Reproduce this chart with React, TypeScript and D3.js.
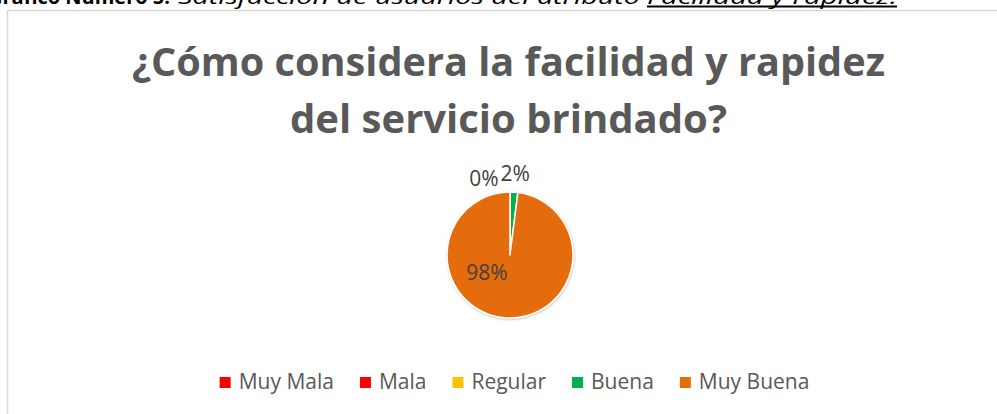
import React, { useEffect, useRef } from 'react';
import * as d3 from 'd3';

const categories = ['Muy Mala', 'Mala', 'Regular', 'Buena', 'Muy Buena'];
const values = [0, 0, 0, 2, 98];
const percentLabels = ['0%', '0%', '0%', '2%', '98%'];
const colors = ['#FF0000', '#FF0000', '#FFC000', '#00B050', '#E46C0A'];
const titleLines = ['¿Cómo considera la facilidad y rapidez', 'del servicio brindado?'];
const captionParts = ['Gráfico Número 5:', 'Satisfacción de usuarios del atributo', 'Facilidad y rapidez.'];

const width = 997;
const height = 414;
const font = '"Open Sans", "DejaVu Sans", sans-serif';

const App = () => {
  const ref = useRef<SVGSVGElement>(null);

  useEffect(() => {
    const svg = d3.select(ref.current);
    svg.selectAll('*').remove();

    // caption of the document above the chart (cut off by the top edge, as in the source)
    const cap = svg.append('g').attr('font-family', font).attr('font-size', 20).attr('fill', '#000');
    cap.append('text').attr('x', 170).attr('y', 4).attr('text-anchor', 'end')
      .attr('font-weight', 'bold').text(captionParts[0]);
    cap.append('text').attr('x', 178).attr('y', 4).attr('font-style', 'italic')
      .attr('textLength', 462).attr('lengthAdjust', 'spacingAndGlyphs').text(captionParts[1]);
    cap.append('text').attr('x', 647).attr('y', 4).attr('font-style', 'italic')
      .attr('textLength', 250).attr('lengthAdjust', 'spacingAndGlyphs').text(captionParts[2]);
    cap.append('rect').attr('x', 647).attr('y', 5.5).attr('width', 250).attr('height', 2);

    // chart area border
    svg.append('rect').attr('x', 7.5).attr('y', 10.5).attr('width', 995).attr('height', 420)
      .attr('fill', '#fff').attr('stroke', '#d9d9d9').attr('stroke-width', 1.5);

    // title
    const title = svg.append('g').attr('font-family', font).attr('font-weight', 'bold')
      .attr('font-size', 39).attr('fill', '#595959').attr('text-anchor', 'middle');
    const titleWidths = [753, 437];
    titleLines.forEach((t, i) => {
      title.append('text').attr('x', 508.5).attr('y', 76 + i * 57)
        .attr('textLength', titleWidths[i]).attr('lengthAdjust', 'spacingAndGlyphs').text(t);
    });

    // pie
    const cx = 510, cy = 255, r = 63;
    const defs = svg.append('defs');
    defs.append('filter').attr('id', 'sh').attr('x', '-20%').attr('y', '-20%').attr('width', '140%').attr('height', '140%')
      .append('feDropShadow').attr('dx', 0.5).attr('dy', 1).attr('stdDeviation', 1.2)
      .attr('flood-color', '#000').attr('flood-opacity', 0.25);

    const pie = d3.pie<number>().sort(null).value(d => d)(values);
    const arc = d3.arc<d3.PieArcDatum<number>>().innerRadius(0).outerRadius(r);
    const g = svg.append('g').attr('transform', `translate(${cx},${cy})`);
    g.append('g').attr('filter', 'url(#sh)').selectAll('path').data(pie).join('path')
      .attr('d', arc).attr('fill', (d, i) => colors[i])
      .attr('stroke', '#fff').attr('stroke-width', 1.5).attr('stroke-linejoin', 'round');

    // data labels (zero slices share one spot, draw it once)
    const outR = r + 19;
    const labels = g.append('g').attr('font-family', font).attr('font-size', 21).attr('fill', '#404040')
      .attr('text-anchor', 'middle');
    const seen = new Set<string>();
    pie.forEach((d, i) => {
      const mid = (d.startAngle + d.endAngle) / 2;
      let x: number, y: number;
      if (d.value >= 50) {
        // large slice: label inside, toward lower left like Excel's best fit
        const a = (233 / 180) * Math.PI;
        x = Math.sin(a) * 29;
        y = -Math.cos(a) * 29;
      } else if (d.value === 0) {
        x = Math.sin(mid) * outR - 26;
        y = -Math.cos(mid) * outR + 5;
      } else {
        x = Math.sin(mid) * outR;
        y = -Math.cos(mid) * outR;
      }
      const key = `${Math.round(x)},${Math.round(y)}`;
      if (seen.has(key)) return;
      seen.add(key);
      labels.append('text').attr('x', x).attr('y', y + 7.5).text(percentLabels[i]);
    });

    // legend
    const leg = svg.append('g').attr('font-family', font).attr('font-size', 21).attr('fill', '#595959');
    const items = categories.map((c, i) => {
      const it = leg.append('g');
      it.append('rect').attr('width', 11).attr('height', 11).attr('y', -12).attr('fill', colors[i]);
      const t = it.append('text').attr('x', 19).attr('y', 0).text(c);
      const w = (t.node() as SVGTextElement).getComputedTextLength();
      return { it, w: 19 + w };
    });
    const gap = 26;
    const total = d3.sum(items, d => d.w) + gap * (items.length - 1);
    let x0 = 514.5 - total / 2;
    items.forEach(d => {
      d.it.attr('transform', `translate(${x0},389)`);
      x0 += d.w + gap;
    });
  }, []);

  return (
    <div style={{ position: 'absolute', left: 0, top: 0, width, height, background: '#fff' }}>
      <svg ref={ref} width={width} height={height} style={{ display: 'block' }} />
    </div>
  );
};

export default App;
